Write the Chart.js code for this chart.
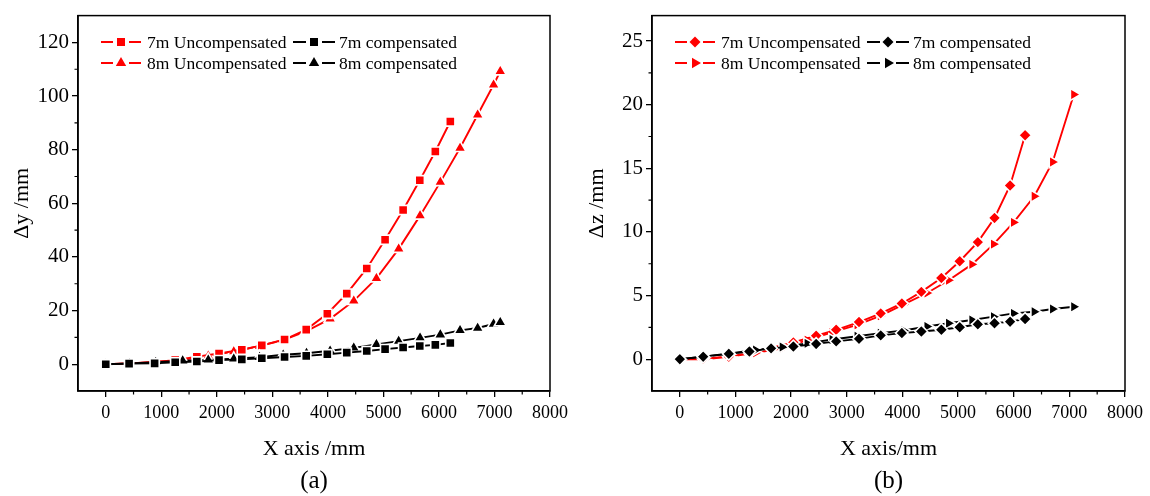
<!DOCTYPE html>
<html>
<head>
<meta charset="utf-8">
<script src="https://cdn.jsdelivr.net/npm/chart.js@4.4.0/dist/chart.umd.min.js"></script>
<style>
body { margin: 0; background: #fff; }
.panel { position: absolute; top: 0; width: 575px; height: 496px; }
</style>
</head>
<body>
<div class="panel" style="left:0"><canvas id="chartA" width="575" height="496"></canvas></div>
<div class="panel" style="left:575px"><canvas id="chartB" width="575" height="496"></canvas></div>
<script>
// x positions along the axis (mm)
const x7 = [0, 420, 880, 1250, 1640, 2040, 2450, 2810, 3220, 3610, 3990, 4340, 4700, 5030, 5355, 5655, 5935, 6205];
const x8y = [0, 430, 900, 1385, 1846, 2305, 2770, 3195, 3615, 4040, 4466, 4874, 5275, 5660, 6025, 6380, 6697, 6984, 7104];
const x8z = [0, 450, 900, 1363, 1842, 2290, 2738, 3187, 3605, 4023, 4443, 4831, 5250, 5639, 5998, 6370, 6700, 7080];

// (a) delta y
const dy7Unc = [0, 0.3, 0.8, 1.5, 2.8, 4.0, 5.4, 7.0, 9.2, 12.9, 18.8, 26.3, 35.7, 46.4, 57.5, 68.6, 79.3, 90.5];
const dy7Comp = [0, 0.2, 0.3, 0.7, 1.0, 1.5, 1.8, 2.2, 2.7, 3.1, 3.7, 4.3, 4.9, 5.6, 6.2, 6.8, 7.2, 7.9];
const dy8Unc = [0, 0.3, 0.8, 1.6, 3.1, 4.7, 6.8, 9.0, 12.3, 16.9, 23.6, 32.0, 43.0, 55.4, 67.9, 80.6, 93.0, 104.2, 109.2];
const dy8Comp = [0, 0.3, 0.7, 1.3, 1.6, 2.0, 2.6, 3.5, 4.1, 5.0, 6.1, 7.4, 8.6, 9.8, 11.0, 12.6, 13.5, 15.0, 15.6];

// (b) delta z
const dz7Unc = [0, 0.05, 0.2, 0.5, 0.88, 1.32, 1.84, 2.31, 2.92, 3.6, 4.38, 5.29, 6.38, 7.7, 9.2, 11.1, 13.65, 17.6];
const dz7Comp = [0, 0.2, 0.42, 0.6, 0.85, 1.0, 1.2, 1.4, 1.6, 1.87, 2.05, 2.18, 2.31, 2.51, 2.74, 2.82, 2.95, 3.16];
const dz8Unc = [0, 0.0, 0.2, 0.5, 0.85, 1.5, 2.1, 2.7, 3.4, 4.3, 5.2, 6.2, 7.45, 9.04, 10.75, 12.8, 15.5, 20.8];
const dz8Comp = [0, 0.22, 0.45, 0.72, 0.96, 1.24, 1.55, 1.8, 2.05, 2.25, 2.57, 2.82, 3.08, 3.34, 3.6, 3.73, 3.94, 4.12];

const labels = ['7m Uncompensated', '7m compensated', '8m Uncompensated', '8m compensated'];
const xTicks = [0, 1000, 2000, 3000, 4000, 5000, 6000, 7000, 8000];
const yTicksA = [0, 20, 40, 60, 80, 100, 120];
const yTicksB = [0, 5, 10, 15, 20, 25];

const FONT = "'Liberation Serif', 'Times New Roman', serif";
const RED = '#ff0000';

function pts(xs, ys) {
  return xs.map((x, i) => ({ x: x, y: ys[i] }));
}

// white rim round each symbol gives the origin-style gap in the line
function ds(label, xs, ys, color, style, r, rot, order) {
  return {
    label: label,
    data: pts(xs, ys),
    borderColor: color,
    backgroundColor: color,
    borderWidth: 1.9,
    pointStyle: style,
    pointRadius: r,
    pointRotation: rot,
    pointBorderWidth: 1.6,
    pointBorderColor: '#fff',
    pointBackgroundColor: color,
    tension: 0,
    order: order
  };
}

// little marker drawer for the legend
function marker(ctx, style, x, y, k) {
  ctx.beginPath();
  if (style == 'square') {
    ctx.rect(x - 4 * k, y - 4 * k, 8 * k, 8 * k);
  } else if (style == 'tri') {
    ctx.moveTo(x, y - 6 * k); ctx.lineTo(x + 5.2 * k, y + 3 * k); ctx.lineTo(x - 5.2 * k, y + 3 * k);
  } else if (style == 'diamond') {
    ctx.moveTo(x, y - 5.5 * k); ctx.lineTo(x + 5.5 * k, y); ctx.lineTo(x, y + 5.5 * k); ctx.lineTo(x - 5.5 * k, y);
  } else {
    ctx.moveTo(x + 6 * k, y); ctx.lineTo(x - 3 * k, y - 5.2 * k); ctx.lineTo(x - 3 * k, y + 5.2 * k);
  }
  ctx.closePath();
  ctx.fill();
}

const decor = {
  id: 'decor',
  afterDraw(chart, args, o) {
    const ctx = chart.ctx, a = chart.chartArea;
    const xs = chart.scales.x, ys = chart.scales.y;
    ctx.save();
    ctx.strokeStyle = '#000';
    ctx.lineWidth = 1.5;
    ctx.strokeRect(a.left, a.top, a.right - a.left, a.bottom - a.top);
    // minor ticks
    ctx.lineWidth = 1.2;
    ctx.beginPath();
    for (let v = 500; v < 8000; v += 1000) {
      const px = xs.getPixelForValue(v);
      ctx.moveTo(px, a.bottom); ctx.lineTo(px, a.bottom + 3.5);
    }
    for (let v = o.minorStart; v < o.minorEnd; v += o.minorStep) {
      const py = ys.getPixelForValue(v);
      ctx.moveTo(a.left, py); ctx.lineTo(a.left - 3.5, py);
    }
    ctx.stroke();
    // legend, 2 x 2
    const rows = [42, 63];
    const cols = [[23, 63, 43, 69], [215, 257, 236, 261]];
    ctx.font = '17.5px ' + FONT;
    ctx.textBaseline = 'middle';
    o.items.forEach((it, i) => {
      const c = cols[i % 2], y = rows[Math.floor(i / 2)];
      const mx = a.left + c[2];
      ctx.strokeStyle = it.color;
      ctx.lineWidth = 1.9;
      ctx.beginPath();
      ctx.moveTo(a.left + c[0], y); ctx.lineTo(mx - 8, y);
      ctx.moveTo(mx + 8, y); ctx.lineTo(a.left + c[1], y);
      ctx.stroke();
      ctx.fillStyle = it.color;
      marker(ctx, it.style, mx, y, 1);
      ctx.fillStyle = '#000';
      ctx.fillText(labels[i], a.left + c[3], y + 1);
    });
    // panel letter
    ctx.font = '25px ' + FONT;
    ctx.textAlign = 'center';
    ctx.fillStyle = '#000';
    ctx.fillText(o.letter, (a.left + a.right) / 2, 481);
    ctx.restore();
  }
};

function makeChart(id, datasets, yMin, yMax, yTicks, yTitle, xTitle, yWidth, decorOpts) {
  return new Chart(document.getElementById(id), {
    type: 'line',
    data: { datasets: datasets },
    plugins: [decor],
    options: {
      responsive: false,
      animation: false,
      layout: { padding: { top: 12, right: 25, left: 0, bottom: 0 } },
      plugins: { legend: { display: false }, tooltip: { enabled: false }, decor: decorOpts },
      scales: {
        x: {
          type: 'linear',
          min: -500,
          max: 8000,
          afterBuildTicks: s => { s.ticks = xTicks.map(v => ({ value: v })); },
          afterFit: s => { s.height = 105; },
          grid: { drawOnChartArea: false, tickLength: 6, color: '#000', lineWidth: 1.3 },
          border: { color: '#000', width: 1.5 },
          ticks: { color: '#000', font: { family: FONT, size: 18 }, padding: 5, maxRotation: 0, autoSkip: false,
                   callback: v => String(v) },
          title: { display: true, text: xTitle, color: '#000', font: { family: FONT, size: 22 }, padding: { top: 0, bottom: 34 } }
        },
        y: {
          type: 'linear',
          min: yMin,
          max: yMax,
          afterBuildTicks: s => { s.ticks = yTicks.map(v => ({ value: v })); },
          afterFit: s => { s.width = yWidth; },
          grid: { drawOnChartArea: false, tickLength: 6, color: '#000', lineWidth: 1.3 },
          border: { color: '#000', width: 1.5 },
          ticks: { color: '#000', font: { family: FONT, size: 21 }, padding: 3, callback: v => String(v) },
          title: { display: true, text: yTitle, color: '#000', font: { family: FONT, size: 22 }, padding: { top: 9, bottom: 0 } }
        }
      }
    }
  });
}

makeChart('chartA', [
  ds(labels[0], x7, dy7Unc, RED, 'rect', 6.5, 0, 2),
  ds(labels[1], x7, dy7Comp, '#000', 'rect', 6.5, 0, 1),
  ds(labels[2], x8y, dy8Unc, RED, 'triangle', 7, 0, 2),
  ds(labels[3], x8y, dy8Comp, '#000', 'triangle', 7, 0, 1)
], -10, 130, yTicksA, '\u0394y /mm', 'X axis /mm', 78, {
  letter: '(a)', minorStart: 10, minorEnd: 130, minorStep: 20,
  items: [{ color: RED, style: 'square' }, { color: '#000', style: 'square' },
          { color: RED, style: 'tri' }, { color: '#000', style: 'tri' }]
});

makeChart('chartB', [
  ds(labels[0], x7, dz7Unc, RED, 'rectRot', 6.3, 0, 2),
  ds(labels[1], x7, dz7Comp, '#000', 'rectRot', 6.3, 0, 1),
  ds(labels[2], x8z, dz8Unc, RED, 'triangle', 6.8, 90, 2),
  ds(labels[3], x8z, dz8Comp, '#000', 'triangle', 6.8, 90, 1)
], -2.5, 27, yTicksB, '\u0394z /mm', 'X axis/mm', 77, {
  letter: '(b)', minorStart: 2.5, minorEnd: 27, minorStep: 5,
  items: [{ color: RED, style: 'diamond' }, { color: '#000', style: 'diamond' },
          { color: RED, style: 'right' }, { color: '#000', style: 'right' }]
});
</script>
</body>
</html>
